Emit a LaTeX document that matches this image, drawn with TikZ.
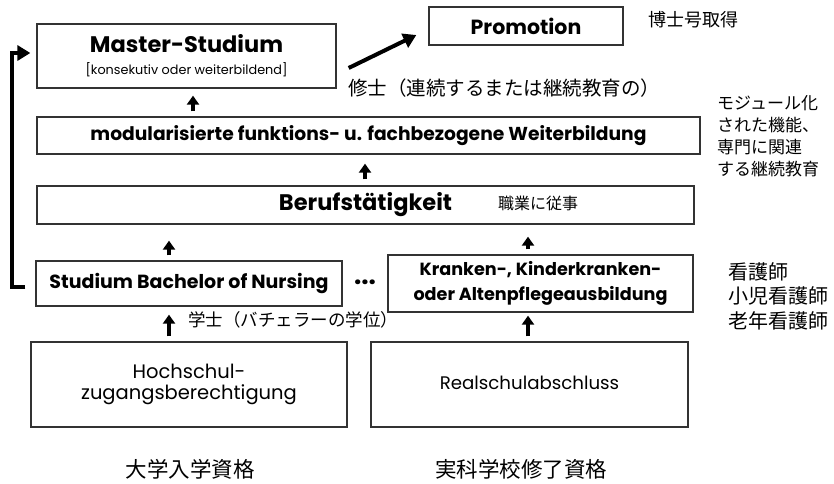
\documentclass[tikz,border=0pt]{standalone}
\usepackage{fontspec}
\setmainfont{Poppins}
\newfontfamily\jp{Noto Sans CJK JP}
\usetikzlibrary{arrows.meta,calc}
\tikzset{
  box/.style={draw=black!80, line width=1.3pt, inner sep=0pt, align=center},
  jtext/.style={inner sep=0pt, align=left},
  smallarr/.style={-{Triangle[width=12pt,length=9pt]}, line width=4pt},
  bigarr/.style={-{Triangle[width=15pt,length=13pt]}, line width=4pt, line join=miter},
}
\newcommand{\fs}[1]{\fontsize{#1}{#1}\selectfont}
\begin{document}
\begin{tikzpicture}[x=1pt,y=-1pt]
\useasboundingbox (0,0) rectangle (834,483);
% boxes
\node[box, minimum width=299pt, minimum height=64pt] (master) at (186.5,56)
  {{\fs{22.5}\bfseries Master-Studium}\\[9pt]{\fs{12.8}[konsekutiv oder weiterbildend]}};
\node[box, minimum width=194pt, minimum height=38pt] (promo) at (526,26)
  {\fs{20.5}\bfseries Promotion};
\node[box, minimum width=663pt, minimum height=37pt] (modul) at (368.5,135.5)
  {\fs{18.7}\bfseries modularisierte funktions- u. fachbezogene Weiterbildung};
\node[box, minimum width=657pt, minimum height=38pt] (beruf) at (365.5,205)
  {\fs{22.5}\bfseries Berufstätigkeit};
\node[box, minimum width=306pt, minimum height=45pt] (stud) at (189,283.5)
  {\fs{19}\bfseries Studium Bachelor of Nursing};
\node[box, minimum width=305pt, minimum height=57pt, font=\fontsize{17.6}{25}\selectfont\bfseries] (kran) at (540.5,283.5)
  {Kranken-, Kinderkranken-\\oder Altenpflegeausbildung};
\node[box, minimum width=316pt, minimum height=85pt, font=\fontsize{19.5}{21.5}\selectfont] (hoch) at (189,384.5)
  {Hochschul-\\zugangsberechtigung};
\node[box, minimum width=317pt, minimum height=85pt] (real) at (529.5,384.5)
  {\raisebox{4pt}{\fs{18.2}Realschulabschluss}};
\node[inner sep=0pt, font=\fs{26}\bfseries] (dots) at (365,282) {...};
% japanese texts
\node[jtext, anchor=west, font=\jp\fs{18}] (hakase) at (648,20) {博士号取得};
\node[jtext, anchor=west, font=\jp\fs{19.5}] (shushi) at (348,88) {修士（連続するまたは継続教育の）};
\node[jtext, anchor=north west, font=\jp\fontsize{17}{22}\selectfont] (modj) at (717,95)
  {モジュール化\\された機能、\\専門に関連\\する継続教育};
\node[jtext, anchor=west, font=\jp\fs{16}] (shokugyo) at (498,203) {職業に従事};
\node[jtext, anchor=west, font=\jp\fs{17.5}] (gakushi) at (188,320) {学士（バチェラーの学位）};
\node[jtext, anchor=north west, font=\jp\fontsize{20}{24.5}\selectfont] (kango) at (728,262)
  {看護師\\小児看護師\\老年看護師};
\node[inner sep=0pt, font=\jp\fs{21.5}] (daigaku) at (190,469) {大学入学資格};
\node[inner sep=0pt, font=\jp\fs{21.5}] (jikka) at (521,469) {実科学校修了資格};
% small arrows
\coordinate (c1) at (193,0);
\coordinate (c2) at (365,0);
\coordinate (c3) at (169,0);
\coordinate (c4) at (528,0);
\draw[smallarr, shorten <=5pt, shorten >=7pt] (modul.north -| c1) -- (master.south -| c1);
\draw[smallarr, shorten <=6pt, shorten >=9pt] (beruf.north -| c2) -- (modul.south -| c2);
\draw[smallarr, shorten <=5pt, shorten >=16pt] (stud.north -| c3) -- (beruf.south -| c3);
\draw[smallarr, shorten <=5pt, shorten >=12pt] (kran.north -| c4) -- (beruf.south -| c4);
\draw[smallarr, shorten <=5pt, shorten >=8pt] (hoch.north -| c3) -- (stud.south -| c3);
\draw[smallarr, shorten <=5pt, shorten >=3pt] (real.north -| c4) -- (kran.south -| c4);
% big arrows
\draw[bigarr] ([xshift=-10pt,yshift=-3.5pt]stud.west) -- ++(-13,0) |- ([xshift=-6pt,yshift=3pt]master.west);
\draw[bigarr] ([xshift=12pt,yshift=-12pt]master.east) -- ([xshift=-12pt,yshift=-9pt]promo.west);
\end{tikzpicture}
\end{document}
